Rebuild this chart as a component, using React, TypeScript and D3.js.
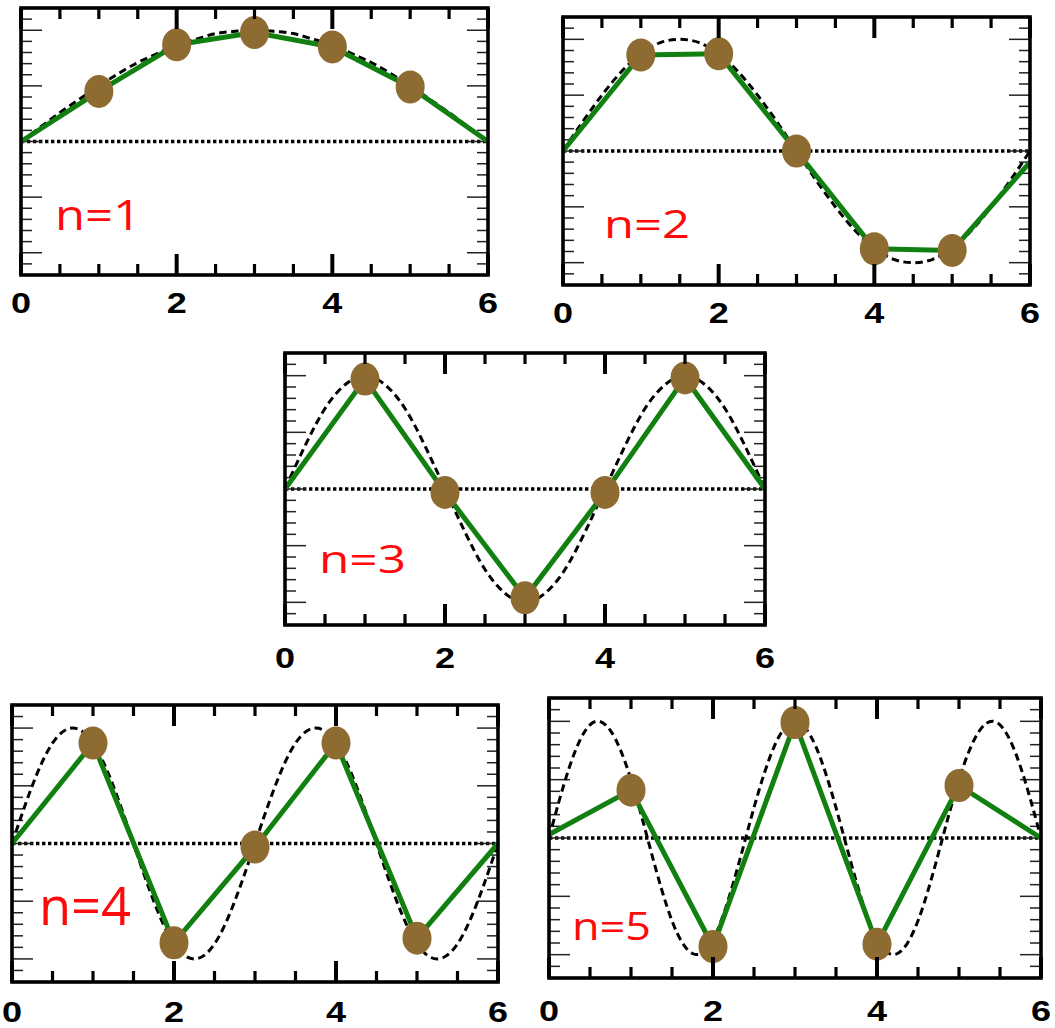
import React from 'react';
import * as d3 from 'd3';

// ---------- data ----------
const sites = [0, 1, 2, 3, 4, 5, 6];
const modeLabels = ['n=1', 'n=2', 'n=3', 'n=4', 'n=5'];

// discrete displacements (green line + markers)
const mode1 = [0, 0.45, 0.87, 0.98, 0.85, 0.49, 0];
const mode2 = [0, 0.86, 0.87, 0, -0.875, -0.89, -0.1];
const mode3 = [0, 0.97, -0.03, -0.96, -0.03, 0.98, 0];
const mode4 = [0, 0.87, -0.86, -0.03, 0.87, -0.82, 0];
const mode5 = [0.03, 0.41, -0.93, 0.99, -0.91, 0.45, 0];

// dashed continuous curves, sampled every 0.25
const curveX = [0, 0.25, 0.5, 0.75, 1, 1.25, 1.5, 1.75, 2, 2.25, 2.5, 2.75, 3, 3.25, 3.5, 3.75, 4, 4.25, 4.5, 4.75, 5, 5.25, 5.5, 5.75, 6];
const curve1 = [0, 0.13, 0.26, 0.38, 0.5, 0.61, 0.71, 0.79, 0.87, 0.92, 0.97, 0.99, 1, 0.99, 0.97, 0.92, 0.87, 0.79, 0.71, 0.61, 0.5, 0.38, 0.26, 0.13, 0];
const curve2 = [0, 0.26, 0.5, 0.71, 0.87, 0.97, 1, 0.97, 0.87, 0.71, 0.5, 0.26, 0, -0.26, -0.5, -0.71, -0.87, -0.97, -1, -0.97, -0.87, -0.71, -0.5, -0.26, 0];
const curve3 = [0, 0.38, 0.71, 0.92, 1, 0.92, 0.71, 0.38, 0, -0.38, -0.71, -0.92, -1, -0.92, -0.71, -0.38, 0, 0.38, 0.71, 0.92, 1, 0.92, 0.71, 0.38, 0];
const curve4 = [0, 0.5, 0.87, 1, 0.87, 0.5, 0, -0.5, -0.87, -1, -0.87, -0.5, 0, 0.5, 0.87, 1, 0.87, 0.5, 0, -0.5, -0.87, -1, -0.87, -0.5, 0];
const curve5 = [0, 0.61, 0.97, 0.92, 0.5, -0.13, -0.71, -0.99, -0.87, -0.38, 0.26, 0.79, 1, 0.79, 0.26, -0.38, -0.87, -0.99, -0.71, -0.13, 0.5, 0.92, 0.97, 0.61, 0];

const modes = [mode1, mode2, mode3, mode4, mode5];
const curves = [curve1, curve2, curve3, curve4, curve5];

const xMajorTicks = [0, 2, 4, 6];
const xMinorTicks = [0.5, 1, 1.5, 2.5, 3, 3.5, 4.5, 5, 5.5];
const yMinorTicks = [-1.1, -0.9, -0.8, -0.7, -0.6, -0.4, -0.3, -0.2, -0.1, 0.1, 0.2, 0.3, 0.4, 0.6, 0.7, 0.8, 0.9, 1.1];
const yMajorTicks = [-1, -0.5, 0, 0.5, 1];
const xDomain = [0, 6];
const yDomain = [-1.2, 1.2];

// ---------- layout ----------
const layouts = [
  { x0: 21, x1: 488, y0: 8, y1: 275, lx: 55, ly: 230, lw: 86, lfs: 42, tdy: 38 },
  { x0: 563, x1: 1030, y0: 17, y1: 285, lx: 604, ly: 238, lw: 86, lfs: 39, tdy: 38 },
  { x0: 285, x1: 765, y0: 353, y1: 625, lx: 319, ly: 573, lw: 87, lfs: 39, tdy: 43 },
  { x0: 12, x1: 498, y0: 705, y1: 982, lx: 39, ly: 925, lw: 92, lfs: 53, tdy: 40 },
  { x0: 549, x1: 1041, y0: 698, y1: 978, lx: 572, ly: 940, lw: 79, lfs: 38, tdy: 43 },
];

const GREEN = '#118011';
const BROWN = '#8e6b31';
const RED = '#ff0a0a';

function Panel({ idx }: { idx: number }) {
  const L = layouts[idx];
  const x = d3.scaleLinear().domain(xDomain).range([L.x0, L.x1]);
  const y = d3.scaleLinear().domain(yDomain).range([L.y1, L.y0]);
  const vals = modes[idx];
  const cv = curves[idx];

  const dashed = d3
    .line<number>()
    .x((_, i) => x(curveX[i]))
    .y((d) => y(d))
    .curve(d3.curveNatural)(cv) as string;
  const green = d3
    .line<number>()
    .x((_, i) => x(sites[i]))
    .y((d) => y(d))(vals) as string;

  return (
    <g>
      {/* zero line */}
      <line x1={L.x0} x2={L.x1} y1={y(0)} y2={y(0)} stroke="#000" strokeWidth={3.6} strokeDasharray="3.4 2.6" />
      {/* y ticks */}
      {yMinorTicks.map((t) => (
        <g key={'ym' + t}>
          <line x1={L.x0} x2={L.x0 + 11} y1={y(t)} y2={y(t)} stroke="#222" strokeWidth={1.5} />
          <line x1={L.x1} x2={L.x1 - 11} y1={y(t)} y2={y(t)} stroke="#222" strokeWidth={1.5} />
        </g>
      ))}
      {yMajorTicks.map((t) => (
        <g key={'yM' + t}>
          <line x1={L.x0} x2={L.x0 + 21} y1={y(t)} y2={y(t)} stroke="#222" strokeWidth={1.5} />
          <line x1={L.x1} x2={L.x1 - 21} y1={y(t)} y2={y(t)} stroke="#222" strokeWidth={1.5} />
        </g>
      ))}
      {/* dashed continuous curve */}
      <path d={dashed} fill="none" stroke="#000" strokeWidth={3} strokeDasharray="7.5 4.5" />
      {/* green discrete line */}
      <path d={green} fill="none" stroke={GREEN} strokeWidth={5} />
      {/* markers */}
      {vals.slice(1, 6).map((v, i) => (
        <ellipse key={'m' + i} cx={x(sites[i + 1])} cy={y(v)} rx={14.5} ry={16.5} fill={BROWN} />
      ))}
      {/* frame */}
      <rect x={L.x0} y={L.y0} width={L.x1 - L.x0} height={L.y1 - L.y0} fill="none" stroke="#000" strokeWidth={3.6} />
      {/* x ticks */}
      {xMinorTicks.map((t) => (
        <g key={'xm' + t}>
          <line x1={x(t)} x2={x(t)} y1={L.y1} y2={L.y1 - 11} stroke="#000" strokeWidth={3.2} />
          <line x1={x(t)} x2={x(t)} y1={L.y0} y2={L.y0 + 11} stroke="#000" strokeWidth={3.2} />
        </g>
      ))}
      {xMajorTicks.map((t) => (
        <g key={'xM' + t}>
          <line x1={x(t)} x2={x(t)} y1={L.y1} y2={L.y1 - 21} stroke="#000" strokeWidth={4} />
          <line x1={x(t)} x2={x(t)} y1={L.y0} y2={L.y0 + 21} stroke="#000" strokeWidth={4} />
          <text
            transform={`translate(${x(t)},${L.y1 + L.tdy}) scale(1.2,1)`}
            textAnchor="middle"
            fontFamily="'Liberation Sans', Arial, sans-serif"
            fontWeight="bold"
            fontSize={30}
            fill="#000"
          >
            {String(t)}
          </text>
        </g>
      ))}
      {/* mode label */}
      <text
        x={L.lx}
        y={L.ly}
        fontFamily="'Open Sans', sans-serif"
        fontWeight={500}
        fontSize={L.lfs}
        fill={RED}
        textLength={L.lw}
        lengthAdjust="spacingAndGlyphs"
      >
        {modeLabels[idx]}
      </text>
    </g>
  );
}

export default function App() {
  return (
    <svg
      width={1055}
      height={1028}
      viewBox="0 0 1055 1028"
      style={{ position: 'absolute', left: 0, top: 0, background: '#fff' }}
    >
      <rect x={0} y={0} width={1055} height={1028} fill="#fff" />
      {layouts.map((_, i) => (
        <Panel key={i} idx={i} />
      ))}
    </svg>
  );
}
